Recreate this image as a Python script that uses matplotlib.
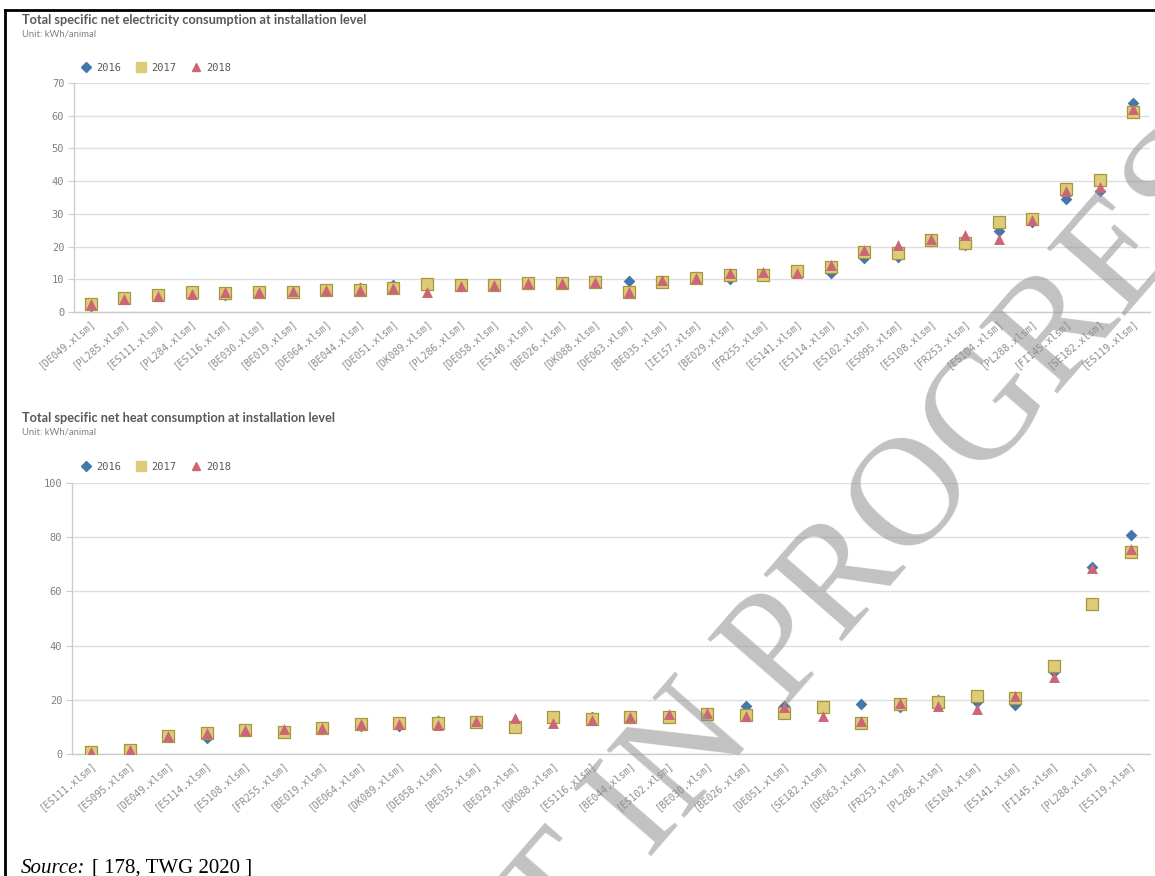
import matplotlib
matplotlib.use("Agg")
import matplotlib.pyplot as plt
from matplotlib.lines import Line2D

# electricity chart data (kWh/animal)
elec_sites = ["DE049", "PL285", "ES111", "PL284", "ES116", "BE030", "BE019", "DE064",
              "BE044", "DE051", "DK089", "PL286", "DE058", "ES140", "BE026", "DK088",
              "DE063", "BE035", "IE157", "BE029", "FR255", "ES141", "ES114", "ES102",
              "ES095", "ES108", "FR253", "ES104", "PL288", "FI145", "SE182", "ES119"]
elec_2016 = [1.8, 4.0, 4.8, 6.0, 5.3, 5.9, 5.9, 6.6, 7.3, 8.2, 8.4, 8.1, 8.7, 8.5, 8.9, 9.1,
             9.5, 9.3, 10.8, 10.0, 11.6, 12.2, 11.8, 16.4, 16.7, 21.7, 20.6, 24.9, 27.5,
             34.5, 37.1, 64.0]
elec_2017 = [2.5, 4.2, 5.1, 6.2, 5.7, 6.0, 6.2, 6.7, 6.8, 7.3, 8.5, 8.2, 8.4, 9.0, 9.0, 9.2,
             6.0, 9.2, 10.3, 11.3, 11.3, 12.6, 13.9, 18.4, 18.1, 22.0, 21.0, 27.6, 28.3,
             37.5, 40.4, 61.1]
elec_2018 = [2.3, 4.0, 5.0, 5.6, 6.1, 6.0, 6.4, 6.7, 6.6, 7.2, 6.0, 8.1, 8.3, 8.9, 9.0, 9.2,
             6.2, 9.8, 10.4, 12.0, 12.1, 12.0, 14.4, 19.0, 20.5, 22.2, 23.5, 22.3, 28.1,
             37.1, 38.3, 62.0]

# heat chart data (kWh/animal)
heat_sites = ["ES111", "ES095", "DE049", "ES114", "ES108", "FR255", "BE019", "DE064",
              "DK089", "DE058", "BE035", "BE029", "DK088", "ES116", "BE044", "ES102",
              "BE030", "BE026", "DE051", "SE182", "DE063", "FR253", "PL286", "ES104",
              "ES141", "FI145", "PL288", "ES119"]
heat_2016 = [0.8, 1.4, 6.5, 5.8, 8.7, 8.0, 9.3, 10.4, 10.3, 12.0, 12.0, 10.0, 13.0, 13.6,
             13.2, 14.0, 15.2, 17.7, 17.7, 17.0, 18.3, 17.4, 20.0, 19.3, 18.1, 30.4, 68.9, 80.8]
heat_2017 = [0.8, 1.5, 6.8, 7.9, 8.9, 8.2, 9.5, 10.9, 11.3, 11.3, 11.9, 10.1, 13.5, 12.8,
             13.8, 13.5, 14.6, 14.4, 15.0, 17.2, 11.6, 18.3, 19.3, 21.5, 20.6, 32.5, 55.4, 74.7]
heat_2018 = [0.8, 1.5, 6.8, 7.9, 8.9, 9.2, 9.5, 10.9, 11.2, 10.7, 12.3, 13.4, 11.3, 12.5,
             13.8, 14.6, 15.2, 14.0, 17.2, 14.0, 12.3, 18.7, 17.7, 16.5, 21.4, 28.3, 68.5, 75.5]

years = ["2016", "2017", "2018"]

BLUE = "#4477aa"
GOLD = "#ddcc77"
GOLD_EDGE = "#a8953f"
PINK = "#cc6677"
MONO = "DejaVu Sans Mono"

W, H = 1155, 876
fig = plt.figure(figsize=(W / 100, H / 100), dpi=100)


def px(x, y):
    return x / W, 1 - y / H


def panel(rect, sites, v16, v17, v18, ymax, ystep, title, title_y, legend_y):
    ax = fig.add_axes(rect)
    xs = list(range(len(sites)))
    ax.scatter(xs, v16, marker="D", s=36, color=BLUE, zorder=3, linewidths=0)
    ax.scatter(xs, v17, marker="s", s=78, color=GOLD, edgecolors=GOLD_EDGE,
               linewidths=0.9, zorder=4)
    ax.scatter(xs, v18, marker="^", s=62, color=PINK, zorder=5, linewidths=0)

    ax.set_xlim(-0.5, len(sites) - 0.5)
    ax.set_ylim(0, ymax)
    ax.set_yticks(range(0, ymax + 1, ystep))
    ax.set_xticks(xs)
    ax.set_xticklabels([f"[{s}.xlsm]" for s in sites], rotation=40, ha="right",
                       va="top", rotation_mode="anchor", fontsize=7, family=MONO,
                       color="#8c8c8c")
    ax.tick_params(axis="x", length=0, pad=4)
    ax.tick_params(axis="y", length=4, width=0.8, color="#cccccc", pad=3,
                   labelsize=7.5, labelcolor="#808080")
    for lab in ax.get_yticklabels():
        lab.set_family(MONO)
    ax.grid(axis="y", color="#dedede", lw=1)
    ax.set_axisbelow(True)
    for side in ["top", "right"]:
        ax.spines[side].set_visible(False)
    for side in ["left", "bottom"]:
        ax.spines[side].set_color("#cccccc")
        ax.spines[side].set_linewidth(1)

    tx, ty = px(22, title_y)
    fig.text(tx, ty, title, fontsize=9.2, fontweight="bold", family="Lato",
             color="#595959", va="center")
    ux, uy = px(22, title_y + 14)
    fig.text(ux, uy, "Unit: kWh/animal", fontsize=6.8, family="Lato",
             color="#808080", va="center")

    handles = [
        Line2D([], [], marker="D", ls="none", color=BLUE, markersize=5),
        Line2D([], [], marker="s", ls="none", color=GOLD, markersize=7),
        Line2D([], [], marker="^", ls="none", color=PINK, markersize=6),
    ]
    lx, ly = px(71, legend_y)
    leg = fig.legend(handles, years, loc="center left", bbox_to_anchor=(lx, ly),
                     ncol=3, frameon=False, handlelength=1.0, handletextpad=0.5,
                     columnspacing=1.4, prop={"family": MONO, "size": 7.5})
    for t in leg.get_texts():
        t.set_color("#595959")
    return ax


x0, y0 = px(74, 312)
x1, y1 = px(1150, 83)
panel([x0, y0, x1 - x0, y1 - y0], elec_sites, elec_2016, elec_2017, elec_2018, 70, 10,
      "Total specific net electricity consumption at installation level", 20, 68)

x0, y0 = px(72, 754)
x1, y1 = px(1150, 483)
panel([x0, y0, x1 - x0, y1 - y0], heat_sites, heat_2016, heat_2017, heat_2018, 100, 20,
      "Total specific net heat consumption at installation level", 418, 467)

# page frame lines
fig.add_artist(Line2D([5 / W, 5 / W], [0, 1 - 10 / H], transform=fig.transFigure,
                      color="black", lw=2))
fig.add_artist(Line2D([5 / W, 1], [1 - 10 / H, 1 - 10 / H], transform=fig.transFigure,
                      color="black", lw=2))

# watermark
wx, wy = px(781, 707)
fig.text(wx, wy, "PROGRESS", rotation=49, rotation_mode="anchor", ha="left",
         va="baseline", fontsize=112, family="Liberation Serif", color="#8f8f8f",
         alpha=0.55, zorder=10)
fig.text(wx, wy, "DRAFT IN ", rotation=49, rotation_mode="anchor", ha="right",
         va="baseline", fontsize=112, family="Liberation Serif", color="#8f8f8f",
         alpha=0.55, zorder=10)

# source line
sx, sy = px(21, 873)
fig.text(sx, sy, "Source:", fontsize=15, family="Liberation Serif", style="italic",
         va="baseline")
sx2, _ = px(92, 873)
fig.text(sx2, sy, "[ 178, TWG 2020 ]", fontsize=15, family="Liberation Serif",
         va="baseline")

fig.savefig("out.png", dpi=100)
